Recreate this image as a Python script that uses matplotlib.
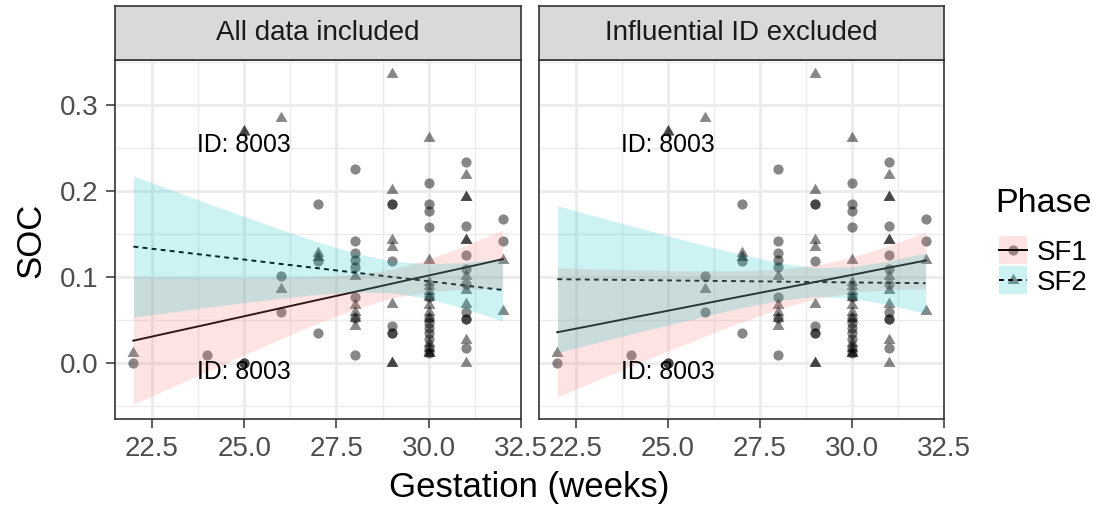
import matplotlib.pyplot as plt
from matplotlib.patches import Rectangle
from matplotlib.lines import Line2D

plt.rcParams["font.family"] = ["Liberation Sans", "DejaVu Sans"]

# facet titles and legend entries
panel_titles = ["All data included", "Influential ID excluded"]
phases = ["SF1", "SF2"]

# raw observations (same in both facets)
sf1_x = [22, 24, 25, 25, 26, 26, 27, 27, 27,
         28, 28, 28, 28, 28, 28, 28, 28,
         29, 29, 29, 29, 29, 29,
         30, 30, 30, 30, 30, 30, 30, 30, 30, 30, 30, 30,
         31, 31, 31, 31, 31, 31, 31, 31, 31,
         32, 32]
sf1_y = [0.0, 0.009, 0.0, 0.0, 0.101, 0.059, 0.184, 0.118, 0.034,
         0.225, 0.142, 0.127, 0.119, 0.111, 0.076, 0.052, 0.009,
         0.184, 0.184, 0.118, 0.043, 0.034, 0.034,
         0.209, 0.184, 0.176, 0.158, 0.076, 0.052, 0.046, 0.040, 0.034, 0.028, 0.017, 0.011,
         0.233, 0.159, 0.125, 0.109, 0.092, 0.059, 0.051, 0.051, 0.017,
         0.167, 0.142]

sf2_x = [22, 25, 25, 26, 26, 27, 27,
         28, 28, 28, 28, 28,
         29, 29, 29, 29, 29, 29, 29,
         30, 30, 30, 30, 30, 30, 30, 30, 30, 30, 30, 30, 30,
         31, 31, 31, 31, 31, 31, 31, 31, 31, 31,
         32, 32]
sf2_y = [0.011, 0.268, 0.270, 0.285, 0.086, 0.127, 0.123,
         0.101, 0.067, 0.059, 0.052, 0.043,
         0.336, 0.201, 0.143, 0.134, 0.068, 0.0, 0.0,
         0.261, 0.119, 0.094, 0.089, 0.083, 0.076, 0.067, 0.059, 0.052, 0.023, 0.017, 0.011, 0.011,
         0.218, 0.193, 0.193, 0.143, 0.143, 0.101, 0.085, 0.068, 0.026, 0.0,
         0.119, 0.060]

# fitted lines and confidence ribbons
fit_x = [22, 23, 24, 25, 26, 27, 28, 29, 30, 31, 32]

all_sf1_fit = [0.0256, 0.0351, 0.0445, 0.0540, 0.0635, 0.0730, 0.0824, 0.0919, 0.1014, 0.1108, 0.1203]
all_sf1_lo = [-0.0485, -0.0291, -0.0100, 0.0091, 0.0279, 0.0460, 0.0624, 0.0753, 0.0825, 0.0854, 0.0865]
all_sf1_hi = [0.0997, 0.0993, 0.0990, 0.0989, 0.0991, 0.1000, 0.1024, 0.1085, 0.1203, 0.1362, 0.1541]
all_sf2_fit = [0.1350, 0.1300, 0.1249, 0.1199, 0.1148, 0.1098, 0.1048, 0.0997, 0.0947, 0.0896, 0.0846]
all_sf2_lo = [0.0530, 0.0588, 0.0644, 0.0698, 0.0749, 0.0794, 0.0823, 0.0814, 0.0745, 0.0626, 0.0486]
all_sf2_hi = [0.2170, 0.2012, 0.1854, 0.1700, 0.1547, 0.1402, 0.1273, 0.1180, 0.1149, 0.1166, 0.1206]

excl_sf1_fit = [0.0354, 0.0437, 0.0521, 0.0604, 0.0688, 0.0771, 0.0854, 0.0938, 0.1021, 0.1105, 0.1188]
excl_sf1_lo = [-0.0396, -0.0217, -0.0039, 0.0136, 0.0308, 0.0472, 0.0622, 0.0743, 0.0816, 0.0849, 0.0858]
excl_sf1_hi = [0.1104, 0.1091, 0.1081, 0.1072, 0.1068, 0.1070, 0.1086, 0.1133, 0.1226, 0.1361, 0.1518]
excl_sf2_fit = [0.0971, 0.0966, 0.0962, 0.0957, 0.0952, 0.0948, 0.0943, 0.0938, 0.0933, 0.0929, 0.0924]
excl_sf2_lo = [0.0118, 0.0225, 0.0333, 0.0438, 0.0540, 0.0638, 0.0722, 0.0772, 0.0751, 0.0675, 0.0574]
excl_sf2_hi = [0.1824, 0.1707, 0.1591, 0.1476, 0.1364, 0.1258, 0.1164, 0.1104, 0.1115, 0.1183, 0.1274]

# "ID: 8003" annotations
id_label = "ID: 8003"
id_label_x = [25, 25]
id_label_y = [0.2534, -0.0105]

x_ticks = [22.5, 25.0, 27.5, 30.0, 32.5]
x_tick_labels = ["22.5", "25.0", "27.5", "30.0", "32.5"]
x_minor = [23.75, 26.25, 28.75, 31.25]
y_ticks = [0.0, 0.1, 0.2, 0.3]
y_tick_labels = ["0.0", "0.1", "0.2", "0.3"]
y_minor = [-0.05, 0.05, 0.15, 0.25, 0.35]

fits = [
    [(all_sf1_fit, all_sf1_lo, all_sf1_hi), (all_sf2_fit, all_sf2_lo, all_sf2_hi)],
    [(excl_sf1_fit, excl_sf1_lo, excl_sf1_hi), (excl_sf2_fit, excl_sf2_lo, excl_sf2_hi)],
]

fills = ["#F8766D", "#00BFC4"]
line_styles = ["-", (0, (2.5, 2.2))]
tri = [(0, 1), (-0.866, -0.5), (0.866, -0.5)]
markers = ["o", tri]
marker_sizes = [54, 98]
ribbon_alpha = 0.2
point_alpha = 0.47
border = "#333333"

W, H = 1104, 508
fig = plt.figure(figsize=(W / 100, H / 100), dpi=100)


def px_axes(x0, y0, x1, y1):
    return fig.add_axes([x0 / W, 1 - y1 / H, (x1 - x0) / W, (y1 - y0) / H])


panel_px = [(115, 521), (539, 944)]
panel_top, panel_bottom = 60, 419
strip_top = 6

for i, (x0, x1) in enumerate(panel_px):
    ax = px_axes(x0, panel_top, x1, panel_bottom)
    ax.set_xlim(21.5, 32.5)
    ax.set_ylim(-0.0655, 0.352)
    ax.set_xticks(x_ticks)
    ax.set_xticklabels(x_tick_labels)
    ax.set_xticks(x_minor, minor=True)
    ax.set_yticks(y_ticks)
    ax.set_yticklabels(y_tick_labels)
    ax.set_yticks(y_minor, minor=True)
    ax.grid(which="major", color="#EBEBEB", linewidth=2.0)
    ax.grid(which="minor", color="#EBEBEB", linewidth=1.0)
    ax.set_axisbelow(True)
    ax.tick_params(which="major", length=6.5, width=1.1, color=border,
                   labelsize=20, labelcolor="#4D4D4D", pad=5.5)
    ax.tick_params(which="minor", length=0)
    if i == 1:
        ax.tick_params(axis="y", which="both", left=False, labelleft=False)
    for sp in ax.spines.values():
        sp.set_color(border)
        sp.set_linewidth(1.2)
        sp.set_zorder(10)

    # points first, then lines, ribbons on top (as in the original)
    ax.scatter(sf1_x, sf1_y, marker=markers[0], s=marker_sizes[0], color="black",
               alpha=point_alpha, linewidths=0, zorder=2)
    ax.scatter(sf2_x, sf2_y, marker=markers[1], s=marker_sizes[1], color="black",
               alpha=point_alpha, linewidths=0, zorder=2)
    for j, (fit, lo, hi) in enumerate(fits[i]):
        ax.plot(fit_x, fit, color="black", linewidth=1.4, linestyle=line_styles[j], zorder=3)
    for j, (fit, lo, hi) in enumerate(fits[i]):
        ax.fill_between(fit_x, lo, hi, color=fills[j], alpha=ribbon_alpha, linewidth=0, zorder=4)

    for lx, ly in zip(id_label_x, id_label_y):
        ax.text(lx, ly, id_label, ha="center", va="center", fontsize=17.8, color="black", zorder=5)

    # facet strip
    st = px_axes(x0, strip_top, x1, panel_top)
    st.set_facecolor("#D9D9D9")
    st.set_xticks([])
    st.set_yticks([])
    for sp in st.spines.values():
        sp.set_color(border)
        sp.set_linewidth(1.2)
    st.text(0.5, 0.5, panel_titles[i], ha="center", va="center", fontsize=20,
            color="#1A1A1A", transform=st.transAxes)

fig.text(529.5 / W, 1 - 497 / H, "Gestation (weeks)", ha="center", va="baseline", fontsize=25)
fig.text(30.5 / W, 1 - 240 / H, "SOC", rotation=90, ha="center", va="center", fontsize=25)

# legend drawn by hand in pixel space
leg = fig.add_axes([0, 0, 1, 1])
leg.set_xlim(0, W)
leg.set_ylim(H, 0)
leg.axis("off")
leg.text(995, 212, "Phase", ha="left", va="baseline", fontsize=24.5)
key_tops = [236, 266]
key_size = 28
for j, phase in enumerate(phases):
    kx, ky = 999, key_tops[j]
    yc = ky + key_size / 2
    leg.add_line(Line2D([kx, kx + key_size], [yc, yc], color="black", linewidth=1.4,
                        linestyle=line_styles[j]))
    leg.scatter([kx + key_size / 2], [yc], marker=markers[j], s=marker_sizes[j],
                color="black", alpha=point_alpha, linewidths=0)
    leg.add_patch(Rectangle((kx, ky), key_size, key_size, facecolor=fills[j],
                            alpha=ribbon_alpha, linewidth=0))
    leg.text(1037, yc + 10, phase, ha="left", va="baseline", fontsize=20)

fig.savefig("out.png", dpi=100)
